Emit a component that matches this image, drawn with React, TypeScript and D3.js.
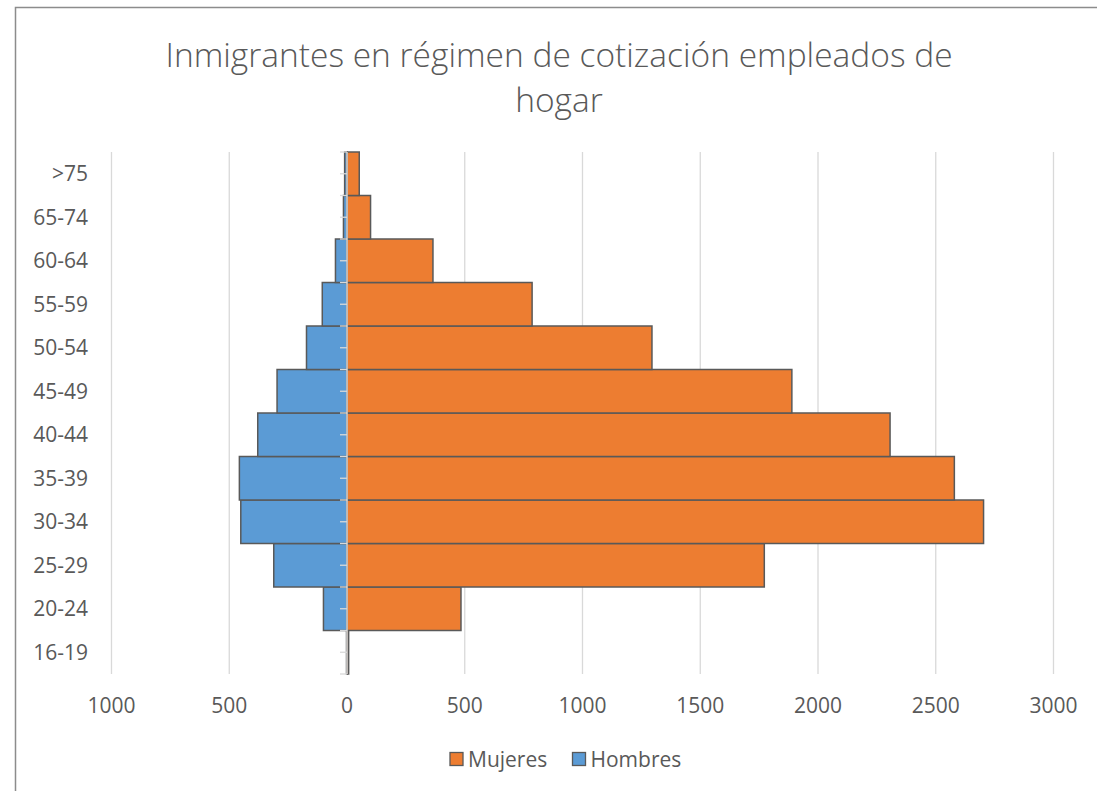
import React, { useEffect } from "react";
import * as d3 from "d3";

const categories = ["16-19", "20-24", "25-29", "30-34", "35-39", "40-44", "45-49", "50-54", "55-59", "60-64", "65-74", ">75"];
const mujeres = [7, 484, 1772, 2703, 2579, 2306, 1889, 1295, 786, 365, 100, 52];
const hombres = [2, 100, 311, 451, 457, 379, 297, 172, 105, 49, 15, 10];
const xTicks = [-1000, -500, 0, 500, 1000, 1500, 2000, 2500, 3000];
const seriesNames = ["Mujeres", "Hombres"];
const seriesColors = ["#ED7D31", "#5B9BD5"];
const titleLines = ["Inmigrantes en régimen de cotización empleados de", "hogar"];

const W = 1097;
const H = 791;
const FONT = "'Open Sans', Lato, sans-serif";
const TEXT = "#595959";

export default function App() {
  useEffect(() => {
    document.documentElement.style.overflow = "hidden";
    document.body.style.margin = "0";
    document.body.style.overflow = "hidden";
  }, []);

  const x = d3.scaleLinear().domain([-1000, 3000]).range([111.5, 1053.5]);
  const y = d3
    .scaleBand<string>()
    .domain([...categories].reverse())
    .range([152, 674])
    .padding(0);
  const bw = y.bandwidth();
  const tickYs: number[] = [];
  categories.forEach((c) => {
    const y0 = y(c) as number;
    tickYs.push(y0, y0 + bw / 2);
  });
  tickYs.push(674);

  return (
    <svg
      width={W}
      height={H}
      style={{ position: "absolute", left: 0, top: 0, display: "block" }}
      fontFamily={FONT}
    >
      <rect x={0} y={0} width={W} height={H} fill="#fff" />
      <path d={`M15.5,${H} V7.5 H${W}`} fill="none" stroke="#8c8c8c" strokeWidth={1.5} />

      {titleLines.map((t, i) => (
        <text
          key={i}
          x={559}
          y={67 + i * 45}
          textAnchor="middle"
          fontSize={33.5}
          fill={TEXT}
          fontWeight={300}
        >
          {t}
        </text>
      ))}

      {xTicks
        .filter((t) => t !== 0)
        .map((t) => (
          <line key={t} x1={x(t)} x2={x(t)} y1={152} y2={674} stroke="#d9d9d9" strokeWidth={1.3} />
        ))}

      {categories.map((c, i) => (
        <g key={c}>
          <rect
            x={x(-hombres[i])}
            y={y(c)}
            width={x(0) - x(-hombres[i])}
            height={bw}
            fill={seriesColors[1]}
            stroke="#595959"
            strokeWidth={1.5}
          />
          <rect
            x={x(0)}
            y={y(c)}
            width={x(mujeres[i]) - x(0)}
            height={bw}
            fill={seriesColors[0]}
            stroke="#595959"
            strokeWidth={1.5}
          />
        </g>
      ))}

      <line x1={x(0)} x2={x(0)} y1={152} y2={674} stroke="#d9d9d9" strokeWidth={1.5} />
      {tickYs.map((ty, i) => (
        <line key={i} x1={x(0) - 7} x2={x(0)} y1={ty} y2={ty} stroke="#d9d9d9" strokeWidth={1.3} />
      ))}

      {categories.map((c) => (
        <text
          key={c}
          x={88}
          y={(y(c) as number) + bw / 2}
          dy="0.36em"
          textAnchor="end"
          fontSize={21}
          fill={TEXT}
        >
          {c}
        </text>
      ))}

      {xTicks.map((t) => (
        <text key={t} x={x(t)} y={705} dy="0.36em" textAnchor="middle" fontSize={21} fill={TEXT}>
          {Math.abs(t)}
        </text>
      ))}

      {seriesNames.map((s, i) => {
        const lx = i === 0 ? 450 : 572.5;
        return (
          <g key={s}>
            <rect x={lx} y={752.5} width={13} height={13} fill={seriesColors[i]} stroke="#595959" strokeWidth={1.3} />
            <text x={lx + 18} y={759} dy="0.36em" fontSize={21} fill={TEXT}>
              {s}
            </text>
          </g>
        );
      })}
    </svg>
  );
}
